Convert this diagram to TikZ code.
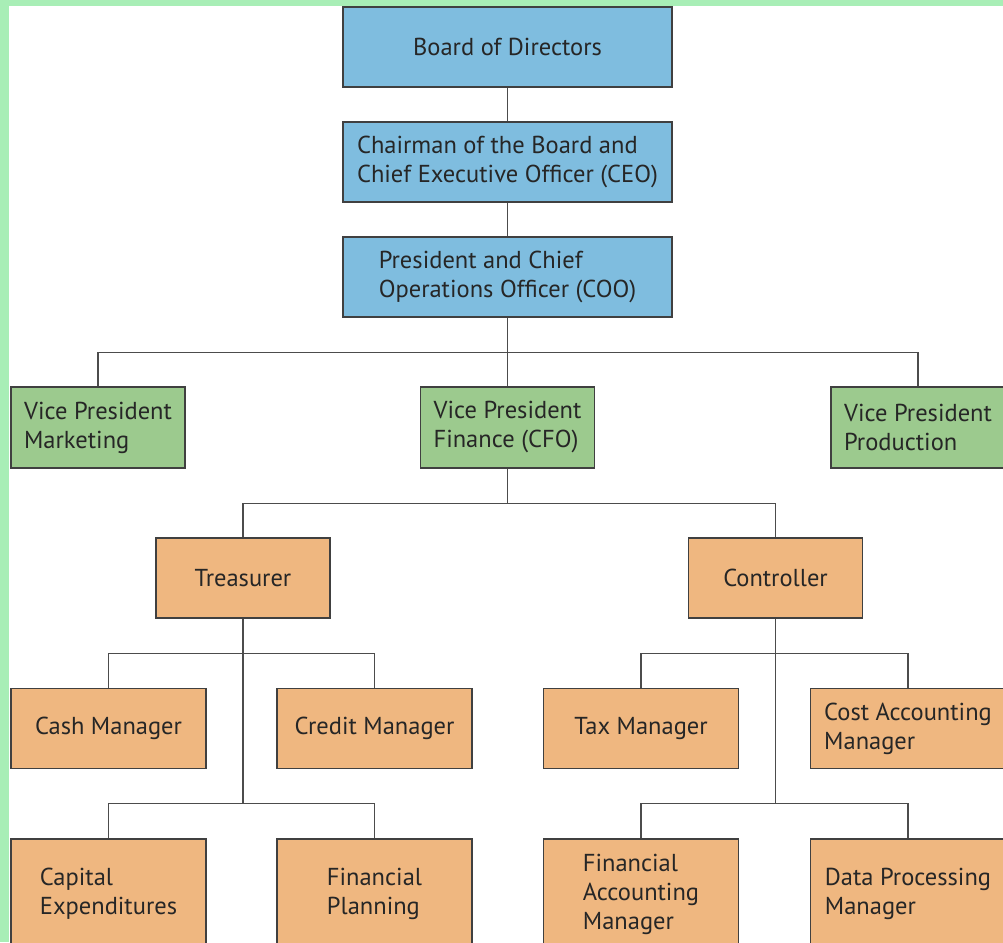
\documentclass[tikz,border=0pt]{standalone}
\usepackage{fontspec}
\setmainfont{PT Sans}
\definecolor{edgegreen}{RGB}{168,238,182}
\definecolor{topblue}{RGB}{127,189,223}
\definecolor{vpgreen}{RGB}{156,202,142}
\definecolor{mgrorange}{RGB}{239,183,128}
\tikzstyle{tb}=[shape=rectangle,
                draw=black!75,
                fill=topblue,
                minimum width=329pt,
                minimum height=80pt,
                inner sep=0pt,
                align=left,
                line width=1.3pt]
\tikzstyle{vb}=[shape=rectangle,
                draw=black!75,
                fill=vpgreen,
                minimum width=174pt,
                minimum height=81pt,
                inner sep=0pt,
                align=left,
                line width=1.3pt]
\tikzstyle{mb}=[shape=rectangle,
                draw=black!75,
                fill=mgrorange,
                minimum width=195pt,
                minimum height=80pt,
                inner sep=0pt,
                align=left,
                line width=1.3pt]

\begin{document}
\begin{tikzpicture}[x=1pt,y=-1pt,font=\fontsize{24.5}{29}\selectfont,
                    line width=1.1pt,draw=black!70,text=black!85]
\useasboundingbox (0,0) rectangle (1003,942);
\clip (0,0) rectangle (1003,942);
% page with green edge
\fill[edgegreen] (0,0) rectangle (1003,942);
\fill[white] (9,6) rectangle (1003,942);

% top of the chart (blue)
\node[tb] (board) at (507.5,47) {Board of Directors};
\node[tb] (ceo) at (507.5,162) {Chairman of the Board and\\Chief Executive Officer (CEO)};
\node[tb] (coo) at (507.5,277) {President and Chief\\Operations Officer (COO)};

% vice presidents (green)
\node[vb] (vpm) at (98,427.5) {Vice President\\Marketing};
\node[vb] (vpf) at (507.5,427.5) {Vice President\\Finance (CFO)};
\node[vb] (vpp) at (918,427.5) {Vice President\\Production};

% under the CFO (orange)
\node[mb,minimum width=174pt] (tre) at (243,578) {Treasurer};
\node[mb,minimum width=174pt] (con) at (775.5,578) {Controller};

% managers
\node[mb] (cash) at (108.5,728.5) {Cash Manager};
\node[mb] (cred) at (374.5,728.5) {Credit Manager};
\node[mb] (tax) at (641,728.5) {Tax Manager};
\node[mb] (cost) at (908,728.5) {Cost Accounting\\Manager};

\begin{scope}[yshift=-150pt]
\node[mb,minimum height=110pt] (capx) at (108.5,744) {Capital\\Expenditures};
\node[mb,minimum height=110pt] (fplan) at (374.5,744) {Financial\\Planning};
\node[mb,minimum height=110pt] (facc) at (641,744) {Financial\\Accounting\\Manager};
\node[mb,minimum height=110pt] (dproc) at (908,744) {Data Processing\\Manager};
\end{scope}

% lines between the boxes
\draw (board) -- (ceo);
\draw (ceo) -- (coo);
\draw (coo) -- (vpf);
\draw (coo.south) -- ++(0,35) -| (vpm.north);
\draw (coo.south) -- ++(0,35) -| (vpp.north);
\draw (vpf.south) -- ++(0,35) -| (tre.north);
\draw (vpf.south) -- ++(0,35) -| (con.north);
\draw (tre.south) -- ++(0,35) -| (cash.north);
\draw (tre.south) -- ++(0,35) -| (cred.north);
\draw (tre.south) -- ++(0,185) -| (capx.north);
\draw (tre.south) -- ++(0,185) -| (fplan.north);
\draw (con.south) -- ++(0,35) -| (tax.north);
\draw (con.south) -- ++(0,35) -| (cost.north);
\draw (con.south) -- ++(0,185) -| (facc.north);
\draw (con.south) -- ++(0,185) -| (dproc.north);
\end{tikzpicture}
\end{document}
